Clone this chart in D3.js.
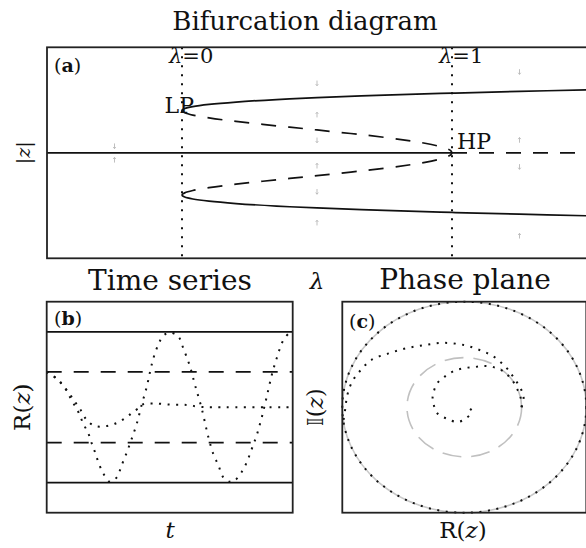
<!DOCTYPE html>
<html><head><meta charset="utf-8">
<script src="https://cdn.jsdelivr.net/npm/d3@7"></script>
<style>
body{margin:0;background:#fff;}
svg{display:block;}
text{font-family:"DejaVu Serif",serif;fill:#111;}
</style></head>
<body><svg id="c" width="586" height="548"></svg>
<script>
// ---------- Panel (a) data: bifurcation branches ----------
const lamStable = [0, 0.001, 0.01, 0.04, 0.1, 0.2, 0.35, 0.5, 0.75, 1.0, 1.25, 1.5];
const rStable   = [1.0, 1.016, 1.049, 1.095, 1.147, 1.203, 1.262, 1.307, 1.366, 1.414, 1.455, 1.492];
const lamUnstable = [0, 0.001, 0.01, 0.04, 0.1, 0.2, 0.35, 0.5, 0.75, 0.9, 0.97, 0.995, 1.0];
const rUnstable   = [1.0, 0.984, 0.949, 0.894, 0.827, 0.744, 0.639, 0.541, 0.366, 0.226, 0.12, 0.05, 0];
const lamTrivialStable = [-0.5, 1.0];
const lamTrivialUnstable = [1.0, 1.5];
const markerLams = [0, 1];
const markerLabels = ["0", "1"];
// quiver arrows (lambda, r, direction +1 up / -1 down)
const quiverLam = [-0.25, -0.25, 0.5, 0.5, 0.5, 0.5, 0.5, 0.5, 1.25, 1.25, 1.25, 1.25];
const quiverR   = [0.16, -0.17, 1.65, 0.90, 0.30, -0.31, -0.92, -1.66, 1.92, 0.30, -0.33, -1.97];
const quiverDir = [-1, 1, -1, 1, -1, 1, -1, 1, -1, 1, -1, 1];

// ---------- Panel (b) data: time series ----------
const rLimit = 1.0;      // stable limit cycle amplitude
const rUnstableCycle = 0.47; // unstable cycle amplitude
const tOut = [0, 0.51, 0.94, 1.28, 1.61, 1.87, 2.13, 2.30, 2.47, 2.64, 2.89, 3.23, 3.58, 3.83, 4.09, 4.34, 4.60, 4.85, 5.11, 5.28, 5.45, 5.70, 5.96, 6.30, 6.72, 6.98, 7.32, 7.58, 7.92, 8.26, 8.51, 8.77, 9.02, 9.37, 9.62, 9.96, 10.22, 10.48, 10.73, 10.99, 11.24, 11.50, 11.75, 12.09, 12.43, 12.566];
const rOut = [0.47, 0.38, 0.25, 0.09, -0.06, -0.22, -0.35, -0.48, -0.60, -0.73, -0.88, -0.99, -0.93, -0.77, -0.60, -0.42, -0.22, 0.03, 0.27, 0.47, 0.65, 0.83, 0.95, 0.99, 0.94, 0.78, 0.54, 0.29, -0.02, -0.40, -0.62, -0.77, -0.93, -0.99, -0.97, -0.86, -0.73, -0.55, -0.37, -0.13, 0.14, 0.43, 0.65, 0.89, 0.99, 1.0];
const tIn = [0, 0.59, 1.10, 1.45, 1.79, 2.04, 2.38, 2.72, 3.23, 3.66, 4.09, 4.43, 4.77, 4.94, 5.45, 6.30, 7.15, 7.83, 8.69, 12.566];
const rIn = [0.47, 0.36, 0.20, 0.07, -0.06, -0.17, -0.24, -0.26, -0.24, -0.20, -0.13, -0.06, 0.0, 0.04, 0.05, 0.035, 0.03, 0.005, 0.0, 0.0];

// ---------- Panel (c) data: phase plane spirals ----------
const outerRe = [0.47, 0.486, 0.46, 0.40, 0.34, 0.24, 0.13, -0.005, -0.17, -0.32, -0.47, -0.62, -0.76, -0.85, -0.92, -0.96, -0.975, -0.99];
const outerIm = [0.0, 0.10, 0.18, 0.29, 0.38, 0.48, 0.54, 0.59, 0.61, 0.59, 0.56, 0.51, 0.45, 0.35, 0.24, 0.11, -0.01, -0.12];
const innerRe = [0.47, 0.46, 0.43, 0.39, 0.32, 0.24, 0.16, 0.08, -0.005, -0.09, -0.16, -0.22, -0.25, -0.26, -0.25, -0.22, -0.14, -0.06, 0.01, 0.06, 0.02];
const innerIm = [0.0, 0.10, 0.18, 0.26, 0.34, 0.38, 0.39, 0.38, 0.37, 0.34, 0.29, 0.23, 0.15, 0.09, 0.02, -0.06, -0.11, -0.14, -0.11, -0.04, 0.02];

const titles = ["Bifurcation diagram", "Time series", "Phase plane"];

const svg = d3.select("#c");
svg.append("rect").attr("width",586).attr("height",548).attr("fill","#fff");

const DASH = "15,12", DOT = "2,6.5";
const curve = d3.curveCatmullRom.alpha(0.5);

function panelLabel(g, x, y, letter){
  const t = g.append("text").attr("x",x).attr("y",y).attr("font-size",19);
  t.append("tspan").text("(");
  t.append("tspan").attr("font-weight","bold").text(letter);
  t.append("tspan").text(")");
}

// ================= Panel (a) =================
const ax = d3.scaleLinear().domain([-0.5,1.5]).range([47,587]);
const ay = d3.scaleLinear().domain([-2.5,2.5]).range([258.3,47.3]);
const ga = svg.append("g");
ga.append("defs").append("clipPath").attr("id","clipA").append("rect")
  .attr("x",ax(-0.5)).attr("y",ay(2.5)).attr("width",ax(1.5)-ax(-0.5)).attr("height",ay(-2.5)-ay(2.5));
const pa = ga.append("g").attr("clip-path","url(#clipA)");

// quiver arrows
quiverLam.forEach((l,i)=>{
  const x = ax(l), y = ay(quiverR[i]), d = quiverDir[i];
  const y0 = y + 2.6*d, y1 = y - 2.6*d;
  pa.append("path").attr("d",`M${x},${y0}L${x},${y1}M${x-1.3},${y1+1.6*d}L${x},${y1}L${x+1.3},${y1+1.6*d}`)
    .attr("stroke","#b8b8b8").attr("stroke-width",0.9).attr("fill","none");
});

// marker lines
markerLams.forEach(l=>{
  pa.append("line").attr("x1",ax(l)).attr("x2",ax(l)).attr("y1",ay(2.5)).attr("y2",ay(-2.5))
    .attr("stroke","#111").attr("stroke-width",2).attr("stroke-dasharray","2,7");
});

const la = d3.line().curve(curve).x(d=>ax(d[0])).y(d=>ay(d[1]));
[1,-1].forEach(s=>{
  pa.append("path").attr("d", la(lamStable.map((l,i)=>[l, s*rStable[i]])))
    .attr("fill","none").attr("stroke","#111").attr("stroke-width",1.7);
  pa.append("path").attr("d", la(lamUnstable.map((l,i)=>[l, s*rUnstable[i]])))
    .attr("fill","none").attr("stroke","#111").attr("stroke-width",1.7).attr("stroke-dasharray",DASH);
});
pa.append("path").attr("d", la(lamTrivialStable.map(l=>[l,0])))
  .attr("fill","none").attr("stroke","#111").attr("stroke-width",1.7);
pa.append("path").attr("d", la(lamTrivialUnstable.map(l=>[l,0])))
  .attr("fill","none").attr("stroke","#111").attr("stroke-width",1.7).attr("stroke-dasharray",DASH);

ga.append("rect").attr("x",ax(-0.5)).attr("y",ay(2.5)).attr("width",ax(1.5)-ax(-0.5)).attr("height",ay(-2.5)-ay(2.5))
  .attr("fill","none").attr("stroke","#222").attr("stroke-width",1.8);

markerLams.forEach((l,i)=>{
  const t = ga.append("text").attr("x",ax(l)-13).attr("y",63).attr("font-size",21);
  t.append("tspan").attr("font-style","italic").text("λ");
  t.append("tspan").text("=" + markerLabels[i]);
});
ga.append("text").attr("x",ax(0)+12).attr("y",ay(rStable[0])+2).attr("text-anchor","end").attr("font-size",22).text("LP");
ga.append("text").attr("x",ax(1)+5).attr("y",ay(0)-4).attr("font-size",22).text("HP");
panelLabel(ga, 54, 72, "a");

svg.append("text").attr("x",305).attr("y",30).attr("text-anchor","middle").attr("font-size",26).text(titles[0]);
svg.append("text").attr("transform",`translate(30,${ay(0)}) rotate(-90)`).attr("text-anchor","middle")
  .attr("font-size",19).attr("fill","#555").attr("font-style","italic").text("|z|");
svg.append("text").attr("x",ax(0.5)).attr("y",289).attr("text-anchor","middle").attr("font-size",23)
  .attr("font-style","italic").text("λ");

// ================= Panel (b) =================
const bx = d3.scaleLinear().domain([0,12.566]).range([46.7,292.7]);
const by = d3.scaleLinear().domain([-1.4,1.4]).range([512.7,301.7]);
const gb = svg.append("g");
[rLimit,-rLimit].forEach(r=>{
  gb.append("line").attr("x1",bx(0)).attr("x2",bx(12.566)).attr("y1",by(r)).attr("y2",by(r))
    .attr("stroke","#111").attr("stroke-width",1.7);
});
[rUnstableCycle,-rUnstableCycle].forEach(r=>{
  gb.append("line").attr("x1",bx(0)).attr("x2",bx(12.566)).attr("y1",by(r)).attr("y2",by(r))
    .attr("stroke","#111").attr("stroke-width",1.7).attr("stroke-dasharray",DASH);
});
const lb = d3.line().curve(curve).x(d=>bx(d[0])).y(d=>by(d[1]));
gb.append("path").attr("d",lb(tOut.map((t,i)=>[t,rOut[i]]))).attr("fill","none")
  .attr("stroke","#111").attr("stroke-width",2).attr("stroke-dasharray",DOT);
gb.append("path").attr("d",lb(tIn.map((t,i)=>[t,rIn[i]]))).attr("fill","none")
  .attr("stroke","#111").attr("stroke-width",2).attr("stroke-dasharray",DOT);
gb.append("rect").attr("x",bx(0)).attr("y",by(1.4)).attr("width",bx(12.566)-bx(0)).attr("height",by(-1.4)-by(1.4))
  .attr("fill","none").attr("stroke","#222").attr("stroke-width",1.8);
panelLabel(gb, 54, 325, "b");
svg.append("text").attr("x",170).attr("y",290).attr("text-anchor","middle").attr("font-size",28).text(titles[1]);
svg.append("text").attr("x",170).attr("y",538).attr("text-anchor","middle").attr("font-size",23)
  .attr("font-style","italic").text("t");
{
  const t = svg.append("text").attr("transform",`translate(30,${by(0)}) rotate(-90)`).attr("text-anchor","middle").attr("font-size",23);
  t.append("tspan").text("R(");
  t.append("tspan").attr("font-style","italic").text("z");
  t.append("tspan").text(")");
}

// ================= Panel (c) =================
const cx = d3.scaleLinear().domain([-1,1]).range([342.3,586.3]);
const cy = d3.scaleLinear().domain([-1,1]).range([512.7,301.7]);
const gc = svg.append("g");
gc.append("ellipse").attr("cx",cx(0)).attr("cy",cy(0)).attr("rx",cx(rLimit)-cx(0)).attr("ry",cy(0)-cy(rLimit))
  .attr("fill","none").attr("stroke","#c8c8c8").attr("stroke-width",1.6);
gc.append("ellipse").attr("cx",cx(0)).attr("cy",cy(0)).attr("rx",cx(rUnstableCycle)-cx(0)).attr("ry",cy(0)-cy(rUnstableCycle))
  .attr("fill","none").attr("stroke","#c0c0c0").attr("stroke-width",1.6).attr("stroke-dasharray","19,10");
gc.append("ellipse").attr("cx",cx(0)).attr("cy",cy(0)).attr("rx",cx(rLimit)-cx(0)).attr("ry",cy(0)-cy(rLimit))
  .attr("fill","none").attr("stroke","#111").attr("stroke-width",2).attr("stroke-dasharray",DOT);
const lc = d3.line().curve(curve).x(d=>cx(d[0])).y(d=>cy(d[1]));
gc.append("path").attr("d",lc(outerRe.map((r,i)=>[r,outerIm[i]]))).attr("fill","none")
  .attr("stroke","#111").attr("stroke-width",2).attr("stroke-dasharray",DOT);
gc.append("path").attr("d",lc(innerRe.map((r,i)=>[r,innerIm[i]]))).attr("fill","none")
  .attr("stroke","#111").attr("stroke-width",2).attr("stroke-dasharray",DOT);
gc.append("rect").attr("x",cx(-1)).attr("y",cy(1)).attr("width",cx(1)-cx(-1)).attr("height",cy(-1)-cy(1))
  .attr("fill","none").attr("stroke","#222").attr("stroke-width",1.8);
panelLabel(gc, 349, 328, "c");
svg.append("text").attr("x",465).attr("y",289).attr("text-anchor","middle").attr("font-size",28).text(titles[2]);
{
  const t = svg.append("text").attr("x",463).attr("y",538).attr("text-anchor","middle").attr("font-size",23);
  t.append("tspan").text("R(");
  t.append("tspan").attr("font-style","italic").text("z");
  t.append("tspan").text(")");
}
{
  const t = svg.append("text").attr("transform",`translate(323,${cy(0)}) rotate(-90)`).attr("text-anchor","middle").attr("font-size",22);
  t.append("tspan").attr("font-family","DejaVu Sans").text("𝕀");
  t.append("tspan").text("(");
  t.append("tspan").attr("font-style","italic").text("z");
  t.append("tspan").text(")");
}
</script></body></html>
